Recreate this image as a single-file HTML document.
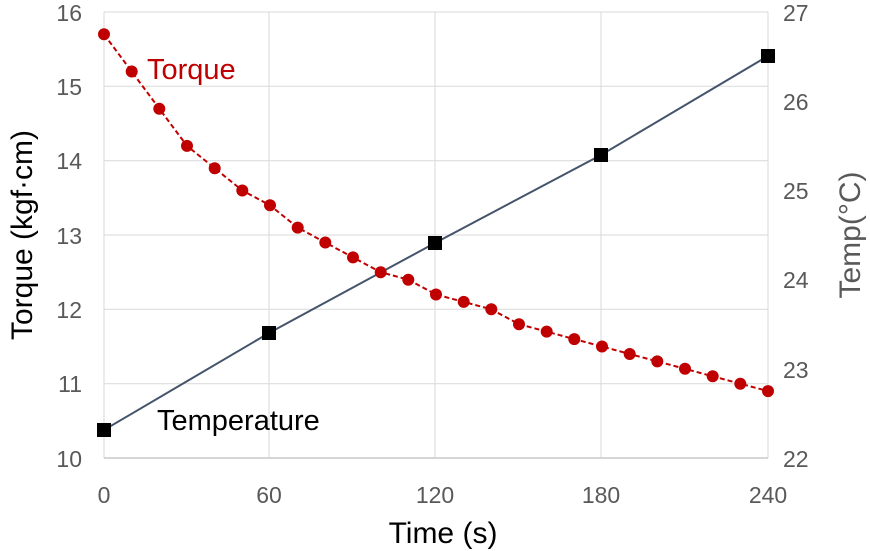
<!DOCTYPE html>
<html><head><meta charset="utf-8"><style>body{margin:0;background:#fff}svg{display:block}</style></head><body>
<svg width="870" height="551" xmlns="http://www.w3.org/2000/svg" font-family="Liberation Sans, DejaVu Sans, sans-serif">
<g stroke="#d9d9d9" stroke-width="1">
<line x1="104" y1="12" x2="768" y2="12"/><line x1="104" y1="86.3" x2="768" y2="86.3"/><line x1="104" y1="160.7" x2="768" y2="160.7"/><line x1="104" y1="235" x2="768" y2="235"/><line x1="104" y1="309.3" x2="768" y2="309.3"/><line x1="104" y1="383.7" x2="768" y2="383.7"/>
<line x1="269" y1="12" x2="269" y2="458"/><line x1="435" y1="12" x2="435" y2="458"/><line x1="601" y1="12" x2="601" y2="458"/><line x1="768" y1="12" x2="768" y2="458"/><line x1="104" y1="12" x2="104" y2="458"/>
</g>
<line x1="104" y1="458" x2="768" y2="458" stroke="#c8c8c8" stroke-width="1.5"/>
<g font-size="23" fill="#595959" text-anchor="end">
<text x="82" y="21">16</text><text x="82" y="95">15</text><text x="82" y="169">14</text><text x="82" y="244">13</text><text x="82" y="318">12</text><text x="82" y="392">11</text><text x="82" y="467">10</text>
</g>
<g font-size="23" fill="#595959" text-anchor="start">
<text x="783" y="21">27</text><text x="783" y="110">26</text><text x="783" y="199">25</text><text x="783" y="288">24</text><text x="783" y="378">23</text><text x="783" y="467">22</text>
</g>
<g font-size="23" fill="#595959" text-anchor="middle">
<text x="104" y="503">0</text><text x="269" y="503">60</text><text x="435" y="503">120</text><text x="601" y="503">180</text><text x="768" y="503">240</text>
</g>
<text x="443" y="543" font-size="30" text-anchor="middle" fill="#000">Time (s)</text>
<text transform="translate(32,235) rotate(-90)" font-size="30" text-anchor="middle" fill="#000">Torque (kgf·cm)</text>
<text transform="translate(860,235) rotate(-90)" font-size="30" text-anchor="middle" fill="#595959">Temp(°C)</text>
<polyline fill="none" stroke="#44546a" stroke-width="2" points="104,430 269,333 435,243 601,155 768,56"/>
<g fill="#000"><rect x="97" y="423" width="14" height="14"/><rect x="262" y="326" width="14" height="14"/><rect x="428" y="236" width="14" height="14"/><rect x="594" y="148" width="14" height="14"/><rect x="761" y="49" width="14" height="14"/></g>
<polyline fill="none" stroke="#c00000" stroke-width="2" stroke-dasharray="5,3" points="104,34.3 131.7,71.5 159.3,108.7 187,145.9 214.7,168.2 242.3,190.5 270,205.3 297.7,227.6 325.3,242.5 353,257.4 380.7,272.2 408.3,279.7 436,294.5 463.7,301.9 491.3,309.3 519,324.2 546.7,331.6 574.3,339.1 602,346.5 629.7,354 657.3,361.4 685,368.8 712.7,376.3 740.3,383.7 768,391.1"/>
<g fill="#c00000">
<circle cx="104" cy="34.3" r="6"/><circle cx="131.7" cy="71.5" r="6"/><circle cx="159.3" cy="108.7" r="6"/><circle cx="187" cy="145.9" r="6"/><circle cx="214.7" cy="168.2" r="6"/><circle cx="242.3" cy="190.5" r="6"/><circle cx="270" cy="205.3" r="6"/><circle cx="297.7" cy="227.6" r="6"/><circle cx="325.3" cy="242.5" r="6"/><circle cx="353" cy="257.4" r="6"/><circle cx="380.7" cy="272.2" r="6"/><circle cx="408.3" cy="279.7" r="6"/><circle cx="436" cy="294.5" r="6"/><circle cx="463.7" cy="301.9" r="6"/><circle cx="491.3" cy="309.3" r="6"/><circle cx="519" cy="324.2" r="6"/><circle cx="546.7" cy="331.6" r="6"/><circle cx="574.3" cy="339.1" r="6"/><circle cx="602" cy="346.5" r="6"/><circle cx="629.7" cy="354" r="6"/><circle cx="657.3" cy="361.4" r="6"/><circle cx="685" cy="368.8" r="6"/><circle cx="712.7" cy="376.3" r="6"/><circle cx="740.3" cy="383.7" r="6"/><circle cx="768" cy="391.1" r="6"/>
</g>
<text x="147" y="79" font-size="29" fill="#c00000">Torque</text>
<text x="157" y="430" font-size="29" fill="#000">Temperature</text>
</svg>
</body></html>
